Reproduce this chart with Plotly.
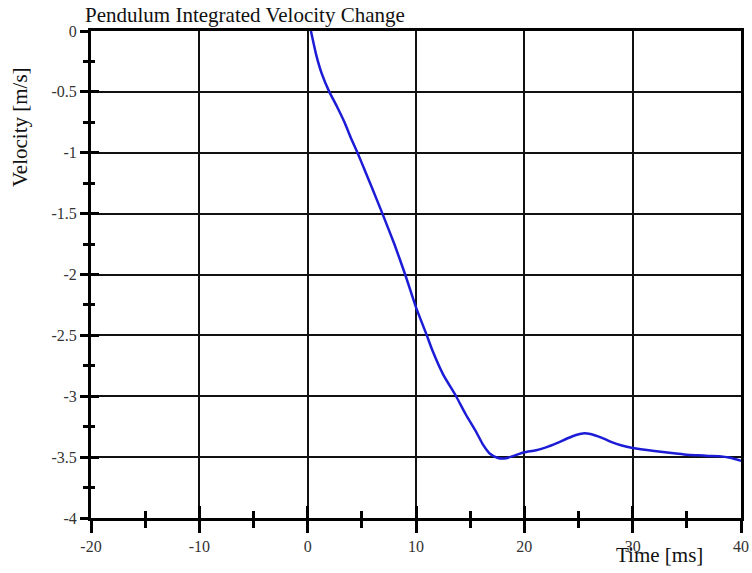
import plotly.graph_objects as go

time_ms = [0.3, 0.8, 1.3, 2.0, 2.7, 3.4, 4.0, 4.6, 5.3, 5.9, 6.9, 8.0, 9.0, 10.0,
           11.0, 11.5, 12.5, 13.7, 14.6, 15.6, 16.2, 16.8, 17.5, 18.3, 19.0, 20.0,
           21.0, 22.0, 23.0, 24.0, 24.7, 25.4, 26.1, 26.8, 27.5, 28.0, 29.0, 30.0,
           32.0, 34.0, 35.0, 36.0, 37.0, 38.0, 39.0, 40.0]
velocity = [0.0, -0.2, -0.35, -0.5, -0.62, -0.75, -0.88, -1.0, -1.15, -1.28, -1.5,
            -1.75, -2.0, -2.27, -2.5, -2.62, -2.82, -3.0, -3.15, -3.3, -3.4, -3.47,
            -3.505, -3.51, -3.49, -3.46, -3.445, -3.42, -3.385, -3.345, -3.32, -3.305,
            -3.31, -3.33, -3.355, -3.375, -3.405, -3.425, -3.45, -3.47, -3.48, -3.485,
            -3.49, -3.492, -3.505, -3.53]

x_ticks = [-20, -10, 0, 10, 20, 30, 40]
x_tick_labels = ["-20", "-10", "0", "10", "20", "30", "40"]
y_ticks = [0, -0.5, -1, -1.5, -2, -2.5, -3, -3.5, -4]
y_tick_labels = ["0", "-0.5", "-1", "-1.5", "-2", "-2.5", "-3", "-3.5", "-4"]

title_text = "Pendulum Integrated Velocity Change"
x_label = "Time [ms]"
y_label = "Velocity [m/s]"

FONT = "Liberation Serif"

fig = go.Figure()
fig.add_trace(go.Scatter(x=time_ms, y=velocity, mode="lines",
                         line=dict(color="#1c1cd6", width=2.5, shape="spline", smoothing=0.5),
                         hoverinfo="skip", showlegend=False))
# invisible trace to carry the overlay axes (inside half of crossing ticks)
fig.add_trace(go.Scatter(x=time_ms, y=velocity, mode="lines", xaxis="x2", yaxis="y2",
                         line=dict(color="rgba(0,0,0,0)", width=0),
                         hoverinfo="skip", showlegend=False))

axis_common = dict(showline=True, linecolor="black", linewidth=3, mirror=True,
                   showgrid=True, gridcolor="#111111", gridwidth=1.5, zeroline=False,
                   tickcolor="black", tickwidth=3, automargin=False,
                   tickfont=dict(family=FONT, size=16, color="#333333"))

fig.update_layout(
    width=752, height=573,
    font=dict(family=FONT),
    paper_bgcolor="white", plot_bgcolor="white",
    margin=dict(l=91, r=11, t=31, b=55, autoexpand=False),
    showlegend=False,
    xaxis=dict(range=[-20, 40], tickvals=x_ticks, ticktext=x_tick_labels,
               ticks="outside", ticklen=12,
               minor=dict(ticks="outside", ticklen=7, tickwidth=3, tickcolor="black",
                          dtick=5, tick0=0, showgrid=False),
               **axis_common),
    yaxis=dict(range=[-4, 0], tickvals=y_ticks, ticktext=y_tick_labels,
               ticks="outside", ticklen=8,
               minor=dict(ticks="outside", ticklen=5, tickwidth=3, tickcolor="black",
                          dtick=0.25, tick0=0, showgrid=False),
               **axis_common),
    xaxis2=dict(range=[-20, 40], overlaying="x", anchor="y2", side="bottom",
                tickvals=x_ticks, ticks="inside", ticklen=12, tickwidth=3, tickcolor="black",
                showticklabels=False, showgrid=False, zeroline=False, showline=False,
                automargin=False,
                minor=dict(ticks="inside", ticklen=7, tickwidth=3, tickcolor="black",
                           dtick=5, tick0=0, showgrid=False)),
    yaxis2=dict(range=[-4, 0], overlaying="y", anchor="x2", side="left",
                tickvals=y_ticks, ticks="inside", ticklen=8, tickwidth=3, tickcolor="black",
                showticklabels=False, showgrid=False, zeroline=False, showline=False,
                automargin=False,
                minor=dict(ticks="inside", ticklen=4, tickwidth=3, tickcolor="black",
                           dtick=0.25, tick0=0, showgrid=False)),
    title=dict(text=title_text, x=85 / 752, xanchor="left", xref="container",
               y=1 - 15 / 573, yanchor="middle", yref="container",
               font=dict(family=FONT, size=21, color="#111111")),
)

fig.add_annotation(text=x_label, xref="paper", yref="paper", x=(659 - 91) / 650,
                   y=-(555 - 518) / 487, xanchor="center", yanchor="middle",
                   showarrow=False, font=dict(family=FONT, size=21, color="#111111"))
fig.add_annotation(text=y_label, xref="paper", yref="paper", x=-(91 - 20) / 650,
                   y=1 - (127 - 31) / 487, xanchor="center", yanchor="middle",
                   textangle=-90, showarrow=False,
                   font=dict(family=FONT, size=21, color="#111111"))

fig.write_html("out.html", config={"displayModeBar": False},
               post_script="document.body.style.margin='0';document.body.style.overflow='hidden';")
